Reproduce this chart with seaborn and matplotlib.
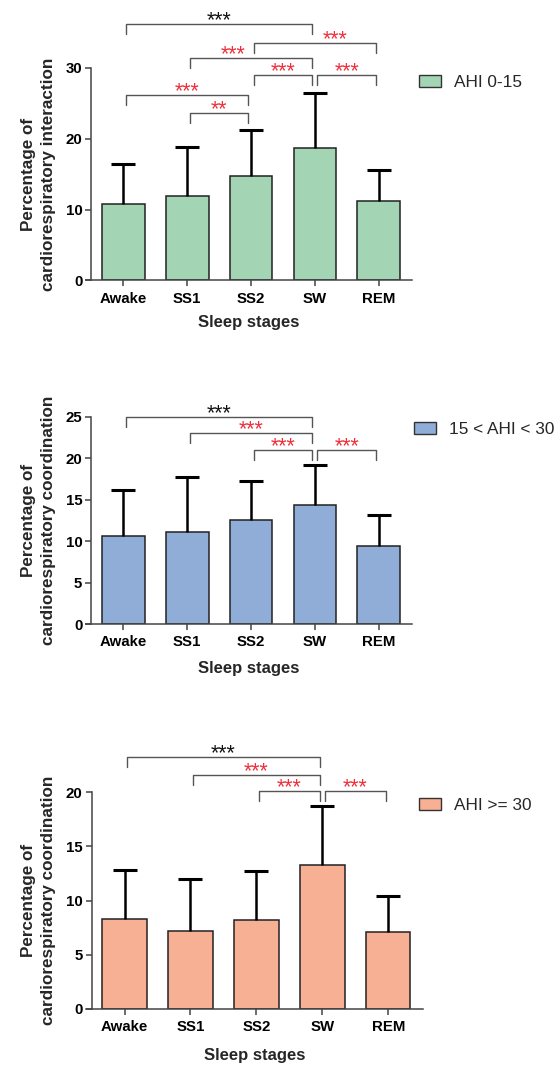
import matplotlib
matplotlib.use('Agg')
import matplotlib.pyplot as plt
from matplotlib.patches import Patch
import seaborn as sns

# Données (moyenne et écart-type par stade de sommeil)
stages = ['Awake', 'SS1', 'SS2', 'SW', 'REM']

mean_low = [10.8, 11.9, 14.8, 18.7, 11.25]
sd_low = [5.6, 7.0, 6.4, 7.75, 4.4]

mean_mid = [10.6, 11.1, 12.6, 14.4, 9.4]
sd_mid = [5.6, 6.6, 4.65, 4.8, 3.75]

mean_high = [8.27, 7.19, 8.2, 13.27, 7.07]
sd_high = [4.51, 4.76, 4.52, 5.47, 3.34]

legend_labels = ['AHI 0-15', '15 < AHI < 30', 'AHI >= 30']
ylabels = ['Percentage of\ncardiorespiratory interaction',
           'Percentage of\ncardiorespiratory coordination',
           'Percentage of\ncardiorespiratory coordination']

# Comparaisons significatives : (stade 1, stade 2, niveau, texte, couleur, décalage du texte)
brackets_low = [(0, 3, 36.2, '***', 'black', 0.0),
                (2, 4, 33.6, '***', 'red', 0.31),
                (1, 3, 31.4, '***', 'red', -0.28),
                (2, 3, 29.0, '***', 'red', 0.0),
                (3, 4, 29.0, '***', 'red', 0.0),
                (0, 2, 26.25, '***', 'red', 0.0),
                (1, 2, 23.7, '**', 'red', 0.0)]
brackets_mid = [(0, 3, 25.0, '***', 'black', 0.0),
                (1, 3, 23.0, '***', 'red', 0.0),
                (2, 3, 21.0, '***', 'red', 0.0),
                (3, 4, 21.0, '***', 'red', 0.0)]
brackets_high = [(0, 3, 23.2, '***', 'black', 0.0),
                 (1, 3, 21.6, '***', 'red', 0.0),
                 (2, 3, 20.1, '***', 'red', 0.0),
                 (3, 4, 20.1, '***', 'red', 0.0)]

colors = ['#A3D4B3', '#8FADD7', '#F8B094']
star_colors = {'black': '#111111', 'red': '#EE2F3B'}

sns.set_style('ticks')
plt.rcParams['font.family'] = ['Liberation Sans', 'DejaVu Sans']

W, H = 554, 1066
fig = plt.figure(figsize=(W / 100, H / 100), dpi=100)


def px_box(left, top, right, bottom):
    return [left / W, 1 - bottom / H, (right - left) / W, (bottom - top) / H]


panels = [
    dict(box=(86, 68, 412, 280.3), means=mean_low, sds=sd_low, ymax=30, step=10,
         leg=1.45, brackets=brackets_low, legend_xy=(418.7, 82.5)),
    dict(box=(86, 416.7, 412, 624), means=mean_mid, sds=sd_mid, ymax=25, step=5,
         leg=1.2, brackets=brackets_mid, legend_xy=(413.7, 429.2)),
    dict(box=(86, 792, 422.7, 1009), means=mean_high, sds=sd_high, ymax=20, step=5,
         leg=0.92, brackets=brackets_high, legend_xy=(418.7, 805.2)),
]

for k, p in enumerate(panels):
    left, top, right, bottom = p['box']
    ax = fig.add_axes(px_box(*p['box']))
    ax_w, ax_h = right - left, bottom - top

    # Barres
    sns.barplot(x=stages, y=p['means'], color=colors[k], saturation=1, width=0.67,
                edgecolor='#222222', linewidth=1.1, errorbar=None, ax=ax, zorder=2)

    # Barres d'erreur (seulement vers le haut)
    eb = ax.errorbar(range(len(stages)), p['means'], yerr=[[0] * len(stages), p['sds']],
                     fmt='none', ecolor='black', elinewidth=1.8, capsize=8.4,
                     capthick=2.2, zorder=3)
    eb[1][0].set_visible(False)

    ax.set_xlim(-0.584, 4.52)
    ax.set_ylim(0, p['ymax'])
    ax.set_yticks(range(0, p['ymax'] + 1, p['step']))
    sns.despine(ax=ax)
    ax.spines['left'].set_position(('data', -0.5))
    for s in ['left', 'bottom']:
        ax.spines[s].set_color('#444444')
        ax.spines[s].set_linewidth(1.1)
    ax.tick_params(axis='both', colors='#444444', length=4.1, width=1.1,
                   labelcolor='black', labelsize=10.8)
    ax.tick_params(axis='y', pad=2.4)
    ax.tick_params(axis='x', pad=4)
    for lab in ax.get_xticklabels() + ax.get_yticklabels():
        lab.set_fontweight('bold')

    # Titres des axes
    ax.set_xlabel('Sleep stages', fontsize=12, fontweight='bold', va='top')
    ax.xaxis.set_label_coords(0.5, -(35 + 2 * k) / ax_h)
    ax.set_ylabel(ylabels[k], fontsize=12.3, fontweight='bold', linespacing=1.35)
    ax.yaxis.set_label_coords(-30.5 / ax_w, 0.5)

    # Crochets de significativité
    for i, j, y, txt, col, dx in p['brackets']:
        x1, x2 = i + 0.04, j - 0.04
        ax.plot([x1, x1, x2, x2], [y - p['leg'], y, y, y - p['leg']], color='#555555',
                lw=1.0, clip_on=False, zorder=4)
        ax.annotate(txt, xy=((x1 + x2) / 2 + dx, y), xytext=(0, -1.6),
                    textcoords='offset points', ha='center', va='baseline',
                    fontsize=15.5, color=star_colors[col], annotation_clip=False)

    # Légende
    lx, ly = p['legend_xy']
    handle = Patch(facecolor=colors[k], edgecolor='#333333', linewidth=1.0)
    ax.legend([handle], [legend_labels[k]], loc='center left',
              bbox_to_anchor=(lx / W, 1 - ly / H), bbox_transform=fig.transFigure,
              frameon=False, borderpad=0, borderaxespad=0, handlelength=1.3,
              handleheight=0.67, handletextpad=0.77, fontsize=12.4)

fig.savefig('out.png', dpi=100)
